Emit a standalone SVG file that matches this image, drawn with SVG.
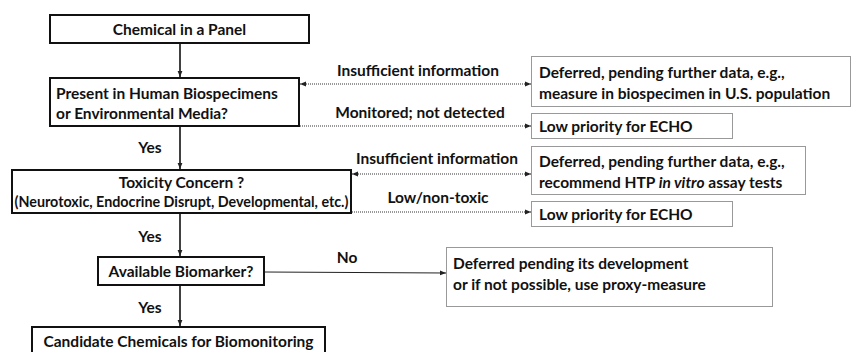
<svg xmlns="http://www.w3.org/2000/svg" width="852" height="352" viewBox="0 0 852 352">
<defs>
<marker id="ah" viewBox="0 0 10 10" refX="10" refY="5" markerWidth="6" markerHeight="6" orient="auto-start-reverse" markerUnits="userSpaceOnUse">
<path d="M0,1 L10,5 L0,9 z" fill="#222"/>
</marker>
<style>
text{font-family:Lato,"Open Sans","Liberation Sans",sans-serif;font-weight:bold;fill:#111;font-size:15.5px}
.c{text-anchor:middle}
.s{font-size:14.3px}
.box{fill:#fff;stroke:#111;stroke-width:2}
.dbox{fill:#fff;stroke:#333;stroke-width:1;stroke-dasharray:1 1}
.sol{stroke:#111;stroke-width:1.6;fill:none}
.dot{stroke:#333;stroke-width:1;stroke-dasharray:1 1;fill:none}
.thin{stroke:#222;stroke-width:1;fill:none}
</style>
</defs>
<rect width="852" height="352" fill="#fff"/>
<g id="connectors">
<line class="sol" x1="180" y1="44" x2="180" y2="77" marker-end="url(#ah)"/>
<line class="sol" x1="180" y1="127" x2="180" y2="169" marker-end="url(#ah)"/>
<line class="sol" x1="180" y1="214" x2="180" y2="256" marker-end="url(#ah)"/>
<line class="sol" x1="180" y1="286" x2="180" y2="326" marker-end="url(#ah)"/>
<line class="dot" x1="300" y1="84" x2="531" y2="84" marker-start="url(#ah)" marker-end="url(#ah)"/>
<line class="dot" x1="300" y1="126" x2="531" y2="126" marker-end="url(#ah)"/>
<line class="dot" x1="352" y1="174" x2="531" y2="174" marker-start="url(#ah)" marker-end="url(#ah)"/>
<line class="dot" x1="352" y1="212" x2="531" y2="212" marker-end="url(#ah)"/>
<line class="thin" x1="265" y1="272" x2="446" y2="273" marker-end="url(#ah)"/>
<text class="c" x="150" y="153">Yes</text>
<text class="c" x="150" y="242">Yes</text>
<text class="c" x="150" y="313">Yes</text>
<text class="c" x="418" y="76">Insufficient information</text>
<text class="c" x="420" y="118">Monitored; not detected</text>
<text class="c" x="437" y="164">Insufficient information</text>
<text class="c" x="438" y="203">Low/non-toxic</text>
<text class="c" x="347" y="263">No</text>
</g>
<g id="n1">
<rect class="box" x="50" y="15" width="259" height="28"/>
<text class="c" x="179.5" y="35">Chemical in a Panel</text>
</g>
<g id="n2">
<rect class="box" x="50" y="78" width="249" height="48"/>
<text x="56" y="99">Present in Human Biospecimens</text>
<text x="56" y="119">or Environmental Media?</text>
</g>
<g id="n3">
<rect class="box" x="12" y="170" width="339" height="43"/>
<text class="c" x="181.5" y="188">Toxicity Concern ?</text>
<text class="c s" x="181.5" y="207">(Neurotoxic, Endocrine Disrupt, Developmental, etc.)</text>
</g>
<g id="n4">
<rect class="box" x="98" y="257" width="166" height="28"/>
<text class="c" x="181" y="277">Available Biomarker?</text>
</g>
<g id="n5">
<rect class="box" x="32" y="327" width="293" height="34"/>
<text class="c" x="178.5" y="347">Candidate Chemicals for Biomonitoring</text>
</g>
<g id="nA">
<rect class="dbox" x="531.5" y="56.5" width="319" height="50"/>
<text x="539" y="78">Deferred, pending further data, e.g.,</text>
<text x="539" y="99">measure in biospecimen in U.S. population</text>
</g>
<g id="nB">
<rect class="dbox" x="531.5" y="113.5" width="201" height="25"/>
<text x="539" y="132">Low priority for ECHO</text>
</g>
<g id="nC">
<rect class="dbox" x="531.5" y="146.5" width="274" height="48"/>
<text x="539" y="167">Deferred, pending further data, e.g.,</text>
<text x="539" y="188">recommend HTP <tspan font-style="italic">in vitro</tspan> assay tests</text>
</g>
<g id="nD">
<rect class="dbox" x="531.5" y="201.5" width="201" height="25"/>
<text x="539" y="220">Low priority for ECHO</text>
</g>
<g id="nE">
<rect class="dbox" x="446.5" y="247.5" width="326" height="59"/>
<text x="453" y="269">Deferred pending its development</text>
<text x="453" y="290">or if not possible, use proxy-measure</text>
</g>
</svg>
